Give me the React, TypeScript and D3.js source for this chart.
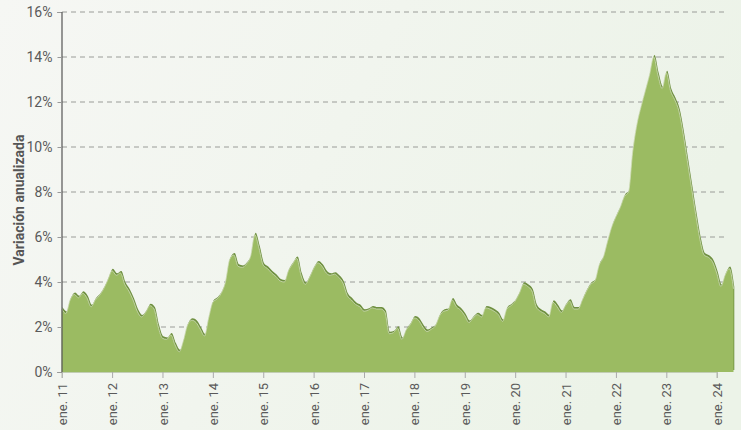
import React, { useEffect, useRef } from 'react';
import * as d3 from 'd3';

// monthly annualized variation (%), ene. 2011 -> abr. 2024
const values2011 = [2.8, 2.6, 3.2, 3.45, 3.3, 3.5, 3.3, 2.9, 3.2, 3.4, 3.7, 4.1];
const values2012 = [4.5, 4.3, 4.4, 3.9, 3.6, 3.2, 2.7, 2.45, 2.65, 2.95, 2.8, 2.0];
const values2013 = [1.5, 1.45, 1.65, 1.2, 0.9, 1.4, 2.1, 2.3, 2.2, 1.9, 1.6, 2.4];
const values2014 = [3.1, 3.25, 3.5, 4.0, 5.0, 5.2, 4.7, 4.65, 4.8, 5.15, 6.1, 5.5];
const values2015 = [4.75, 4.6, 4.4, 4.25, 4.05, 4.0, 4.5, 4.8, 5.05, 4.3, 3.9, 4.2];
const values2016 = [4.6, 4.85, 4.7, 4.4, 4.3, 4.35, 4.2, 3.95, 3.4, 3.2, 3.0, 2.9];
const values2017 = [2.7, 2.75, 2.85, 2.8, 2.8, 2.65, 1.7, 1.75, 1.95, 1.45, 1.85, 2.1];
const values2018 = [2.4, 2.3, 2.0, 1.8, 1.9, 2.05, 2.5, 2.7, 2.75, 3.2, 2.9, 2.75];
const values2019 = [2.5, 2.2, 2.4, 2.55, 2.45, 2.85, 2.8, 2.7, 2.55, 2.25, 2.8, 2.95];
const values2020 = [3.15, 3.5, 3.9, 3.8, 3.6, 2.9, 2.7, 2.6, 2.45, 3.1, 2.9, 2.65];
const values2021 = [2.95, 3.15, 2.8, 2.8, 3.2, 3.6, 3.9, 4.05, 4.75, 5.1, 5.8, 6.45];
const values2022 = [6.9, 7.3, 7.8, 8.0, 9.8, 11.0, 11.8, 12.5, 13.2, 14.0, 13.2, 12.6];
const values2023 = [13.3, 12.5, 12.1, 11.6, 10.6, 9.4, 8.2, 7.0, 5.9, 5.2, 5.1, 4.9];
const values2024 = [4.4, 3.8, 4.3, 4.6, 3.7];

const series = [
  ...values2011, ...values2012, ...values2013, ...values2014, ...values2015,
  ...values2016, ...values2017, ...values2018, ...values2019, ...values2020,
  ...values2021, ...values2022, ...values2023, ...values2024,
];

const yearLabels = ['ene. 11', 'ene. 12', 'ene. 13', 'ene. 14', 'ene. 15', 'ene. 16', 'ene. 17',
  'ene. 18', 'ene. 19', 'ene. 20', 'ene. 21', 'ene. 22', 'ene. 23', 'ene. 24'];
const yTicks = [0, 2, 4, 6, 8, 10, 12, 14, 16];

const width = 741;
const height = 430;
const font = "'Liberation Sans Narrow', 'Roboto', sans-serif";

function App() {
  const ref = useRef<SVGSVGElement>(null);

  useEffect(() => {
    const svg = d3.select(ref.current);
    svg.selectAll('*').remove();

    const data = series.map((v, i) => ({ i, v }));

    const x = d3.scaleLinear().domain([0, 156]).range([61.7, 716.7]);
    const y = d3.scaleLinear().domain([0, 16]).range([372, 12]);

    // background
    const defs = svg.append('defs');
    const grad = defs.append('linearGradient').attr('id', 'bg').attr('x1', 0).attr('y1', 0).attr('x2', 1).attr('y2', 0.3);
    grad.append('stop').attr('offset', '0%').attr('stop-color', '#f6f7f4');
    grad.append('stop').attr('offset', '100%').attr('stop-color', '#ecf3e8');
    svg.append('rect').attr('width', width).attr('height', height).attr('fill', 'url(#bg)');

    // gridlines
    svg.append('g')
      .selectAll('line')
      .data(yTicks.filter((t) => t > 0))
      .join('line')
      .attr('x1', 62)
      .attr('x2', 724)
      .attr('y1', (d) => y(d))
      .attr('y2', (d) => y(d))
      .attr('stroke', '#9a9c98')
      .attr('stroke-width', 1)
      .attr('stroke-dasharray', '5,4');

    const area = d3.area<{ i: number; v: number }>()
      .x((d) => x(d.i))
      .y0(y(0))
      .y1((d) => y(d.v))
      .curve(d3.curveMonotoneX);

    const line = d3.line<{ i: number; v: number }>()
      .x((d) => x(d.i))
      .y((d) => y(d.v))
      .curve(d3.curveMonotoneX);

    // dark edge (shifted)
    svg.append('path')
      .datum(data)
      .attr('d', area)
      .attr('transform', 'translate(0.8,-2)')
      .attr('fill', '#6f9040');

    svg.append('path')
      .datum(data)
      .attr('d', area)
      .attr('fill', '#9bbb62');

    svg.append('path')
      .datum(data)
      .attr('d', line)
      .attr('fill', 'none')
      .attr('stroke', '#cfdcb8')
      .attr('stroke-width', 0.8);

    // y axis
    const yAxis = d3.axisLeft(y)
      .tickValues(yTicks)
      .tickSize(4)
      .tickPadding(5)
      .tickFormat((d) => `${d}%`);
    const gy = svg.append('g').attr('transform', 'translate(61.5,0)').call(yAxis);
    gy.select('.domain').attr('stroke', '#555').attr('stroke-width', 1.2);
    gy.selectAll('.tick line').attr('stroke', '#999');
    gy.selectAll('.tick text')
      .attr('fill', '#5a5a5a')
      .attr('font-size', 14)
      .attr('font-family', font);

    // x axis
    const xAxis = d3.axisBottom(x)
      .tickValues(yearLabels.map((_, k) => k * 12))
      .tickSize(6)
      .tickFormat((_, k) => yearLabels[k]);
    const gx = svg.append('g').attr('transform', 'translate(0,372)').call(xAxis);
    gx.select('.domain').attr('stroke', '#c2cdb4').attr('stroke-width', 1);
    gx.selectAll('.tick line').attr('stroke', '#aaa');
    gx.selectAll('.tick text')
      .attr('fill', '#5a5a5a')
      .attr('font-size', 13)
      .attr('font-family', font)
      .attr('transform', 'rotate(-90)')
      .attr('text-anchor', 'end')
      .attr('x', -11)
      .attr('y', 0)
      .attr('dy', '0.35em');

    // y title
    svg.append('text')
      .attr('transform', 'rotate(-90)')
      .attr('x', -200)
      .attr('y', 24)
      .attr('text-anchor', 'middle')
      .attr('fill', '#555')
      .attr('font-size', 14)
      .attr('font-weight', 'bold')
      .attr('font-family', font)
      .text('Variación anualizada');
  }, []);

  return (
    <svg
      ref={ref}
      width={width}
      height={height}
      style={{ position: 'fixed', left: 0, top: 0, display: 'block' }}
    />
  );
}

export default App;
